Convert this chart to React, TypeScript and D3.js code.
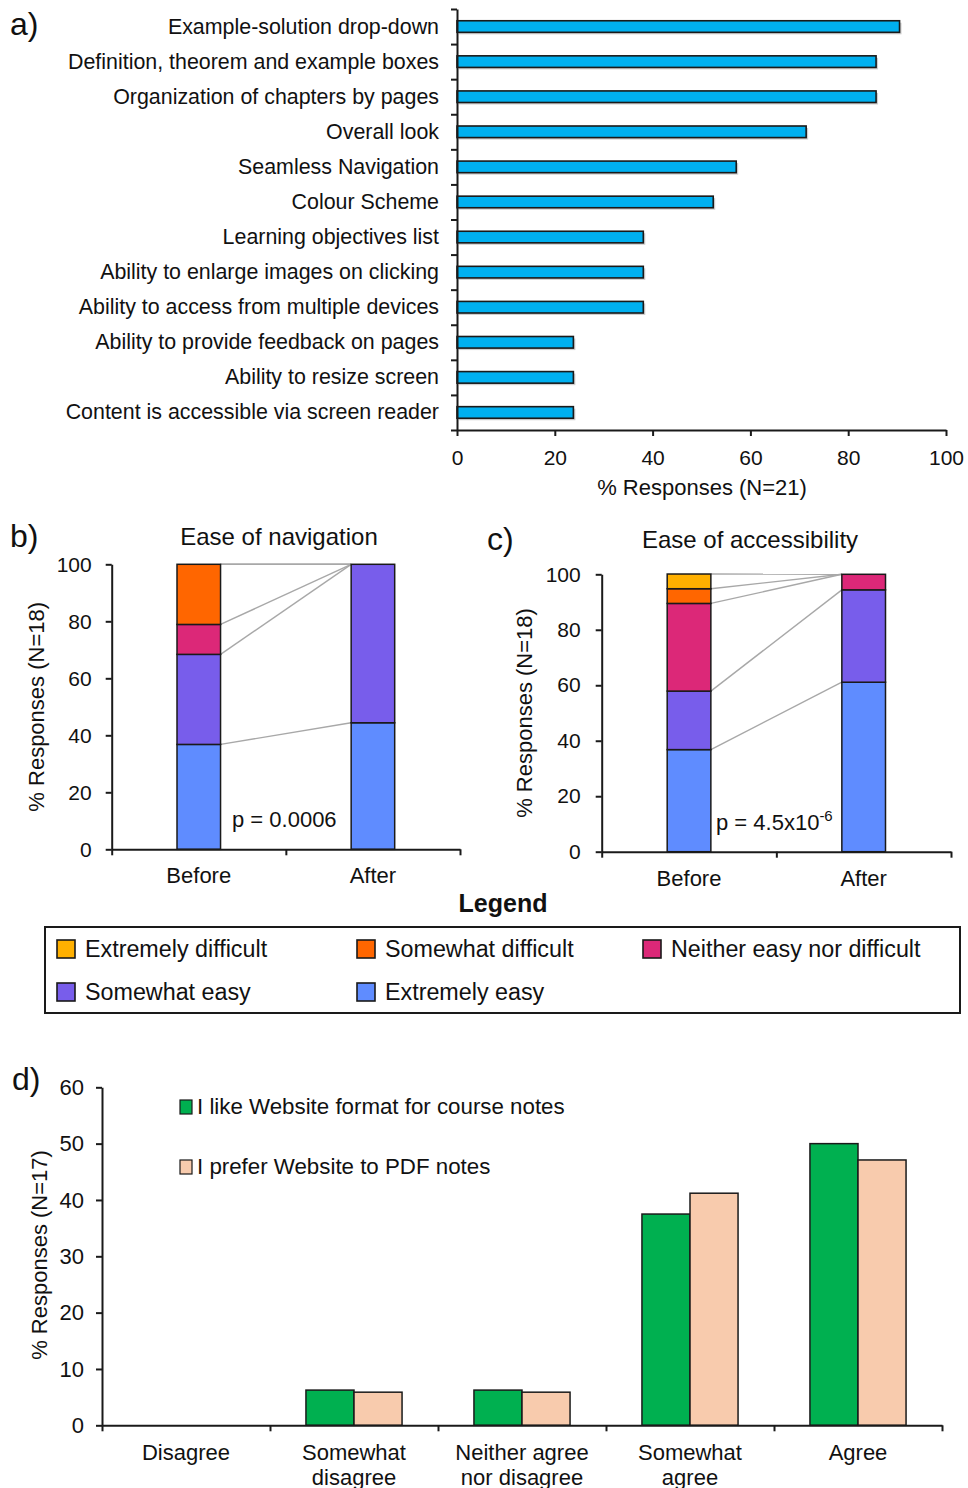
import React, { useEffect, useRef } from "react";
import * as d3 from "d3";

const FONT = "'Liberation Sans', Arial, Helvetica, sans-serif";
const INK = "#1a1a1a";

// a) features that respondents liked
const featureLabels = [
  "Example-solution drop-down",
  "Definition, theorem and example boxes",
  "Organization of chapters by pages",
  "Overall look",
  "Seamless Navigation",
  "Colour Scheme",
  "Learning objectives list",
  "Ability to enlarge images on clicking",
  "Ability to access from multiple devices",
  "Ability to provide feedback on pages",
  "Ability to resize screen",
  "Content is accessible via screen reader",
];
const featureValues = [90.5, 85.7, 85.7, 71.4, 57.1, 52.4, 38.1, 38.1, 38.1, 23.8, 23.8, 23.8];
const featureTicks = [0, 20, 40, 60, 80, 100];

// b) / c) ease ratings, order as in the legend
const easeLevels = [
  "Extremely difficult",
  "Somewhat difficult",
  "Neither easy nor difficult",
  "Somewhat easy",
  "Extremely easy",
];
const easeColors = ["#FFB000", "#FF6600", "#DC2878", "#785DEB", "#5F8CFF"];
const stages = ["Before", "After"];
const navigationBefore = [0, 21.1, 10.5, 31.6, 36.8];
const navigationAfter = [0, 0, 0, 55.6, 44.4];
const accessBefore = [5.3, 5.3, 31.6, 21.1, 36.8];
const accessAfter = [0, 0, 5.6, 33.3, 61.1];
const percentTicks = [0, 20, 40, 60, 80, 100];

// d) agreement
const agreeLabels = [
  ["Disagree"],
  ["Somewhat", "disagree"],
  ["Neither agree", "nor disagree"],
  ["Somewhat", "agree"],
  ["Agree"],
];
const seriesNames = ["I like Website format for course notes", "I prefer Website to PDF notes"];
const seriesColors = ["#00B050", "#F8CBAD"];
const likeFormat = [0, 6.25, 6.25, 37.5, 50];
const preferWebsite = [0, 5.88, 5.88, 41.2, 47.1];
const agreeTicks = [0, 10, 20, 30, 40, 50, 60];

function Axis({ scale, side, x = 0, y = 0, tickValues, size = 21, pad = 12, blank = false }) {
  const ref = useRef(null);
  useEffect(() => {
    const axis = (side === "left" ? d3.axisLeft(scale) : d3.axisBottom(scale))
      .tickValues(tickValues)
      .tickSize(6)
      .tickSizeOuter(0)
      .tickPadding(pad);
    if (blank) axis.tickFormat(() => "");
    const g = d3.select(ref.current);
    g.call(axis);
    g.attr("font-family", null).attr("font-size", null);
    g.select(".domain").attr("stroke", INK).attr("stroke-width", 2);
    g.selectAll(".tick line").attr("stroke", INK).attr("stroke-width", 2);
    g.selectAll(".tick text")
      .attr("fill", "#111")
      .style("font-family", FONT)
      .style("font-size", size + "px");
  });
  return <g ref={ref} transform={`translate(${x},${y})`} />;
}

function FeaturePanel() {
  const x = d3.scaleLinear().domain([0, 100]).range([457, 946]);
  const y = d3.scaleBand().domain(featureLabels).range([9, 430]);
  const idx = d3.scaleLinear().domain([0, featureLabels.length]).range([9, 430]);
  const h = y.bandwidth() * 0.33;
  return (
    <g>
      <text x={10} y={35} fontSize={32}>a)</text>
      {featureLabels.map((d, i) => {
        const cy = y(d) + y.bandwidth() / 2;
        return (
          <g key={d}>
            <rect x={x(0) + 2} y={cy - h / 2 + 2} width={x(featureValues[i]) - x(0)} height={h} fill="#cfcfcf" />
            <rect x={x(0)} y={cy - h / 2} width={x(featureValues[i]) - x(0)} height={h}
              fill="#00B0F0" stroke={INK} strokeWidth={1.6} />
            <text x={439} y={cy + 7} textAnchor="end" fontSize={21.4}>{d}</text>
          </g>
        );
      })}
      <Axis scale={idx} side="left" x={457} tickValues={d3.range(featureLabels.length + 1)} blank />
      <Axis scale={x} side="bottom" y={430} tickValues={featureTicks} size={21} pad={14} />
      <text x={702} y={495} textAnchor="middle" fontSize={22}>% Responses (N=21)</text>
    </g>
  );
}

function EasePanel({ tag, title, before, after, left, right, top, bottom, tagX, titleX, titleY, labelX, tickPad, pX, pText, pExp }) {
  const keys = easeLevels.slice().reverse();
  const rows = [before, after].map((vals, s) => {
    const r = { stage: stages[s] };
    easeLevels.forEach((k, i) => (r[k] = vals[i]));
    return r;
  });
  const layers = d3.stack().keys(keys)(rows);
  const x = d3.scaleBand().domain(stages).range([left, right]);
  const y = d3.scaleLinear().domain([0, 100]).range([bottom, top]);
  const edge = d3.scaleLinear().domain([0, stages.length]).range([left, right]);
  const bw = x.bandwidth() * 0.25;
  const bx = (s) => x(s) + (x.bandwidth() - bw) / 2;
  const colorOf = (k) => easeColors[easeLevels.indexOf(k)];
  return (
    <g>
      <text x={tagX} y={titleY + 2} fontSize={32}>{tag}</text>
      <text x={titleX} y={titleY} textAnchor="middle" fontSize={24}>{title}</text>
      {layers.map((L) => (
        <line key={"c" + L.key} x1={bx("Before") + bw} y1={y(L[0][1])} x2={bx("After")} y2={y(L[1][1])}
          stroke="#a8a8a8" strokeWidth={1.4} />
      ))}
      {layers.map((L) =>
        L.map((seg, s) =>
          seg[1] - seg[0] > 0.01 ? (
            <rect key={L.key + s} x={bx(stages[s])} y={y(seg[1])} width={bw} height={y(seg[0]) - y(seg[1])}
              fill={colorOf(L.key)} stroke={INK} strokeWidth={1.5} />
          ) : null
        )
      )}
      <Axis scale={y} side="left" x={left} tickValues={percentTicks} size={21} pad={tickPad} />
      <Axis scale={edge} side="bottom" y={bottom} tickValues={d3.range(stages.length + 1)} blank />
      {stages.map((s) => (
        <text key={s} x={x(s) + x.bandwidth() / 2} y={bottom + 34} textAnchor="middle" fontSize={22}>{s}</text>
      ))}
      <text transform={`translate(${labelX},${(top + bottom) / 2})rotate(-90)`} textAnchor="middle" fontSize={22}>
        % Responses (N=18)
      </text>
      <text x={pX} y={bottom - 22} fontSize={22}>
        {pText}
        {pExp ? <tspan dy={-9} fontSize={15}>{pExp}</tspan> : null}
      </text>
    </g>
  );
}

function Legend() {
  const cols = [57, 357, 643];
  const rowsY = [940, 983];
  return (
    <g>
      <text x={503} y={912} textAnchor="middle" fontSize={25} fontWeight="bold">Legend</text>
      <rect x={45} y={927} width={915} height={86} fill="none" stroke={INK} strokeWidth={2} />
      {easeLevels.map((d, i) => {
        const cx = cols[i % 3];
        const cy = rowsY[Math.floor(i / 3)];
        return (
          <g key={d}>
            <rect x={cx} y={cy} width={18} height={18} fill={easeColors[i]} stroke={INK} strokeWidth={1.6} />
            <text x={cx + 28} y={cy + 17} fontSize={23.3}>{d}</text>
          </g>
        );
      })}
    </g>
  );
}

function AgreePanel() {
  const cats = agreeLabels.map((d) => d.join(" "));
  const x = d3.scaleBand().domain(cats).range([102, 942]);
  const y = d3.scaleLinear().domain([0, 60]).range([1425.3, 1087.3]);
  const edge = d3.scaleLinear().domain([0, cats.length]).range([102, 942]);
  const bw = x.bandwidth() * 0.286;
  const inner = d3.scaleBand().domain(seriesNames).range([0, 2 * bw]);
  const series = [likeFormat, preferWebsite];
  return (
    <g>
      <text x={12} y={1090} fontSize={32}>d)</text>
      {cats.map((c, ci) =>
        seriesNames.map((n, si) => {
          const v = series[si][ci];
          if (v <= 0) return null;
          return (
            <rect key={c + n} x={x(c) + (x.bandwidth() - 2 * bw) / 2 + inner(n)} y={y(v)}
              width={inner.bandwidth()} height={y(0) - y(v)} fill={seriesColors[si]} stroke={INK} strokeWidth={1.5} />
          );
        })
      )}
      <Axis scale={y} side="left" x={102} tickValues={agreeTicks} size={22} pad={12} />
      <Axis scale={edge} side="bottom" y={1425.3} tickValues={d3.range(cats.length + 1)} blank />
      {agreeLabels.map((lines, ci) => (
        <text key={ci} x={x(cats[ci]) + x.bandwidth() / 2} y={1460} textAnchor="middle" fontSize={22}>
          {lines.map((t, li) => (
            <tspan key={li} x={x(cats[ci]) + x.bandwidth() / 2} dy={li === 0 ? 0 : 25}>{t}</tspan>
          ))}
        </text>
      ))}
      <text transform={`translate(47,1255)rotate(-90)`} textAnchor="middle" fontSize={22}>% Responses (N=17)</text>
      {seriesNames.map((n, i) => (
        <g key={n}>
          <rect x={180} y={1100 + i * 60} width={12} height={14} fill={seriesColors[i]} stroke={INK} strokeWidth={1.2} />
          <text x={197} y={1114 + i * 60} fontSize={22.3}>{n}</text>
        </g>
      ))}
    </g>
  );
}

export default function App() {
  return (
    <svg width={968} height={1488} style={{ position: "absolute", left: 0, top: 0, background: "#fff" }}
      fontFamily={FONT} fill="#111">
      <FeaturePanel />
      <EasePanel tag="b)" title="Ease of navigation" before={navigationBefore} after={navigationAfter}
        left={111.7} right={460} top={564.3} bottom={849.3} tagX={10} titleX={279} titleY={545} labelX={44}
        tickPad={14} pX={232} pText="p = 0.0006" />
      <EasePanel tag="c)" title="Ease of accessibility" before={accessBefore} after={accessAfter}
        left={601.7} right={951} top={574.3} bottom={851.7} tagX={487} titleX={750} titleY={548} labelX={532}
        tickPad={15} pX={716} pText="p = 4.5x10" pExp="-6" />
      <Legend />
      <AgreePanel />
    </svg>
  );
}
